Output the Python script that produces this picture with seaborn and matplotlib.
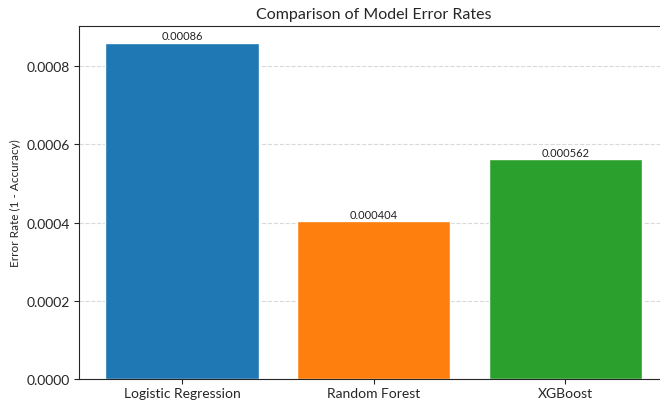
import pandas as pd
import seaborn as sns
import matplotlib.pyplot as plt

models = ['Logistic Regression', 'Random Forest', 'XGBoost']
error_rates = [0.00086, 0.000404, 0.000562]
bar_labels = ['0.00086', '0.000404', '0.000562']
colors = ['#1f77b4', '#ff7f0e', '#2ca02c']

df = pd.DataFrame({'Model': models, 'Error': error_rates})

sns.set_style('ticks')
plt.rcParams['font.family'] = ['Lato', 'DejaVu Sans']

fig = plt.figure(figsize=(6.6, 4.02), dpi=100)
ax = fig.add_axes([78.6 / 660, 22 / 402, 590 / 660, 353 / 402])

sns.barplot(data=df, x='Model', y='Error', hue='Model', palette=colors,
            width=0.8, saturation=1, legend=False, ax=ax)

for cont, lab in zip(ax.containers, bar_labels):
    ax.bar_label(cont, labels=[lab], fontsize=8, padding=1, color='#222222')

ax.set_xlim(-0.54, 2.54)
ax.set_ylim(0, 0.00086 * 1.05)
ax.set_title('Comparison of Model Error Rates', fontsize=11.5, pad=6)
ax.set_xlabel('')
ax.set_ylabel('Error Rate (1 - Accuracy)', fontsize=8.5)
ax.tick_params(axis='both', labelsize=10, length=3.5, pad=2.5, width=0.8)
ax.set_yticks([0, 0.0002, 0.0004, 0.0006, 0.0008])
ax.yaxis.grid(True, linestyle='--', color='#d9d9d9', linewidth=0.8)
ax.set_axisbelow(True)

fig.savefig('out.png', dpi=100)
